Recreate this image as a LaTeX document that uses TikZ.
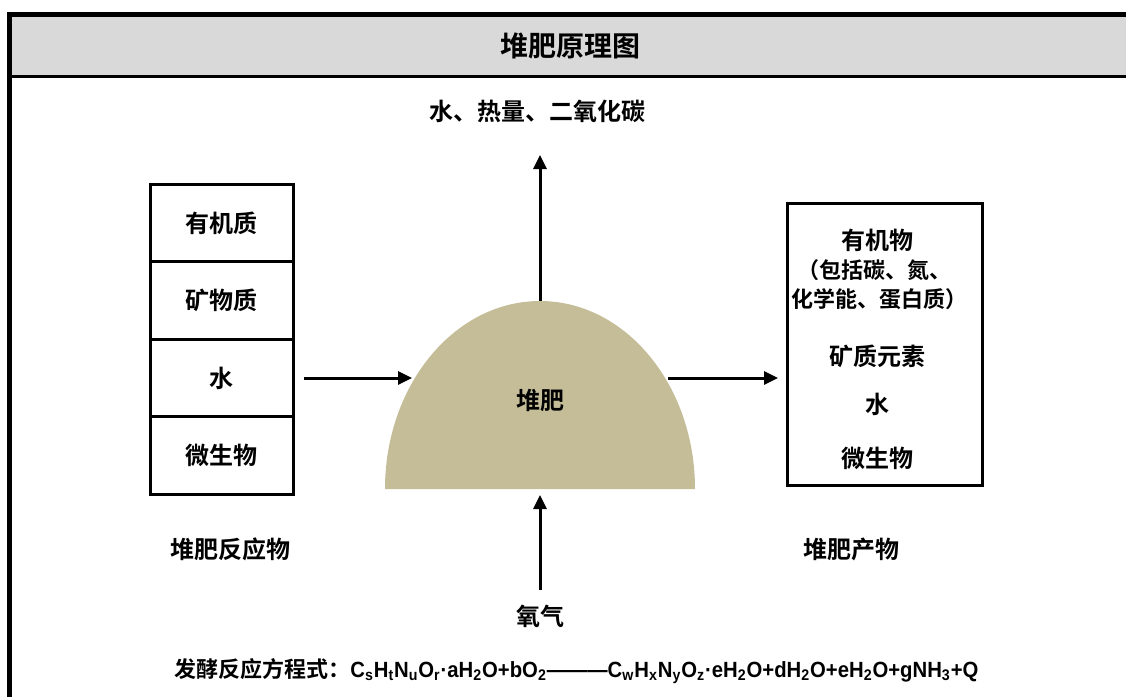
\documentclass[tikz,border=0pt]{standalone}
\usepackage{fontspec}
\usepackage{graphicx}
\setmainfont{Liberation Sans}
\newfontfamily\cjk{Noto Sans CJK SC}[BoldFont={Noto Sans CJK SC Bold}]
\usetikzlibrary{positioning,arrows.meta}
\definecolor{compost}{RGB}{196,189,151}
\newcommand{\cjkfont}[1]{\cjk\bfseries\fontsize{#1}{#1}\selectfont}
\newcommand{\sbs}[1]{\textsubscript{#1}}

\begin{document}
\begin{tikzpicture}[
  x=0.5pt, y=-0.5pt,
  every node/.style={font=\cjkfont{12pt}, inner sep=0pt},
  cell/.style={draw, line width=1.5pt, minimum width=71.5pt, minimum height=38.75pt},
  smallline/.style={font=\cjkfont{11pt}},
  arr/.style={-{Triangle[length=7pt, width=6.5pt]}, line width=1.5pt},
]
  \useasboundingbox (0,0) rectangle (1126,697);

  % Frame with grey title band
  \fill[gray!30] (10,14) rectangle (1140,76);
  \draw[line width=1.5pt] (10,76) -- (1140,76);
  \draw[line width=2.5pt] (9.5,720) -- (9.5,14) -- (1140,14);
  \node[font=\cjkfont{14pt}] (title) at (570,46) {堆肥原理图};

  % Reactants stack
  \node[cell] (organic) at (221.5,223)   {有机质};
  \node[cell] (mineral) at (221.5,300.5) {矿物质};
  \node[cell] (water)   at (221.5,378)   {水};
  \node[cell] (microbe) at (221.5,455.5) {微生物};
  \node (inLbl) at (230,549) {堆肥反应物};

  % Compost heap
  \fill[compost] (385,489) arc[start angle=180, end angle=360, x radius=155, y radius=188] -- cycle;
  \node (heap) at (540,400) {堆肥};
  \coordinate (heapL) at (412,378);
  \coordinate (heapR) at (668,378);
  \coordinate (heapT) at (540,301);
  \coordinate (heapB) at (540,495);

  % Products box
  \node[draw, line width=1.5pt, minimum width=97.5pt, minimum height=141pt] (prod) at (884.5,344) {};
  \node (pOrg)  at (877,240) {有机物};
  \node[smallline] (pOrg2) at (874,270) {（包括碳、氮、};
  \node[smallline] (pOrg3) at (879,299) {化学能、蛋白质）};
  \node (pMin)  at (877,356) {矿质元素};
  \node (pWat)  at (877,404) {水};
  \node (pMic)  at (877,458) {微生物};
  \node (outLbl) at (851,549) {堆肥产物};

  % Outputs and oxygen
  \node (heat) at (537,111) {水、热量、二氧化碳};
  \coordinate (heatTip) at (540,155);
  \node (oxy) at (540,616) {氧气};
  \coordinate (oxyTail) at (540,590);
  \coordinate (prodTip) at (778,378);

  \draw[arr] ([xshift=4.5pt]water.east) -- (heapL);
  \draw[arr] (heapR) -- (prodTip);
  \draw[arr] (heapT) -- (heatTip);
  \draw[arr] (oxyTail) -- (heapB);

  % Fermentation equation
  \node[anchor=west] (eqn) at (174,671) {{\cjkfont{11pt}发酵反应方程式：}\resizebox{314pt}{\height}{\rmfamily\fontsize{11pt}{13pt}\selectfont\bfseries
    C\sbs{s}H\sbs{t}N\sbs{u}O\sbs{r}·aH\sbs{2}O+bO\sbs{2}———C\sbs{w}H\sbs{x}N\sbs{y}O\sbs{z}·eH\sbs{2}O+dH\sbs{2}O+eH\sbs{2}O+gNH\sbs{3}+Q}};
\end{tikzpicture}
\end{document}
